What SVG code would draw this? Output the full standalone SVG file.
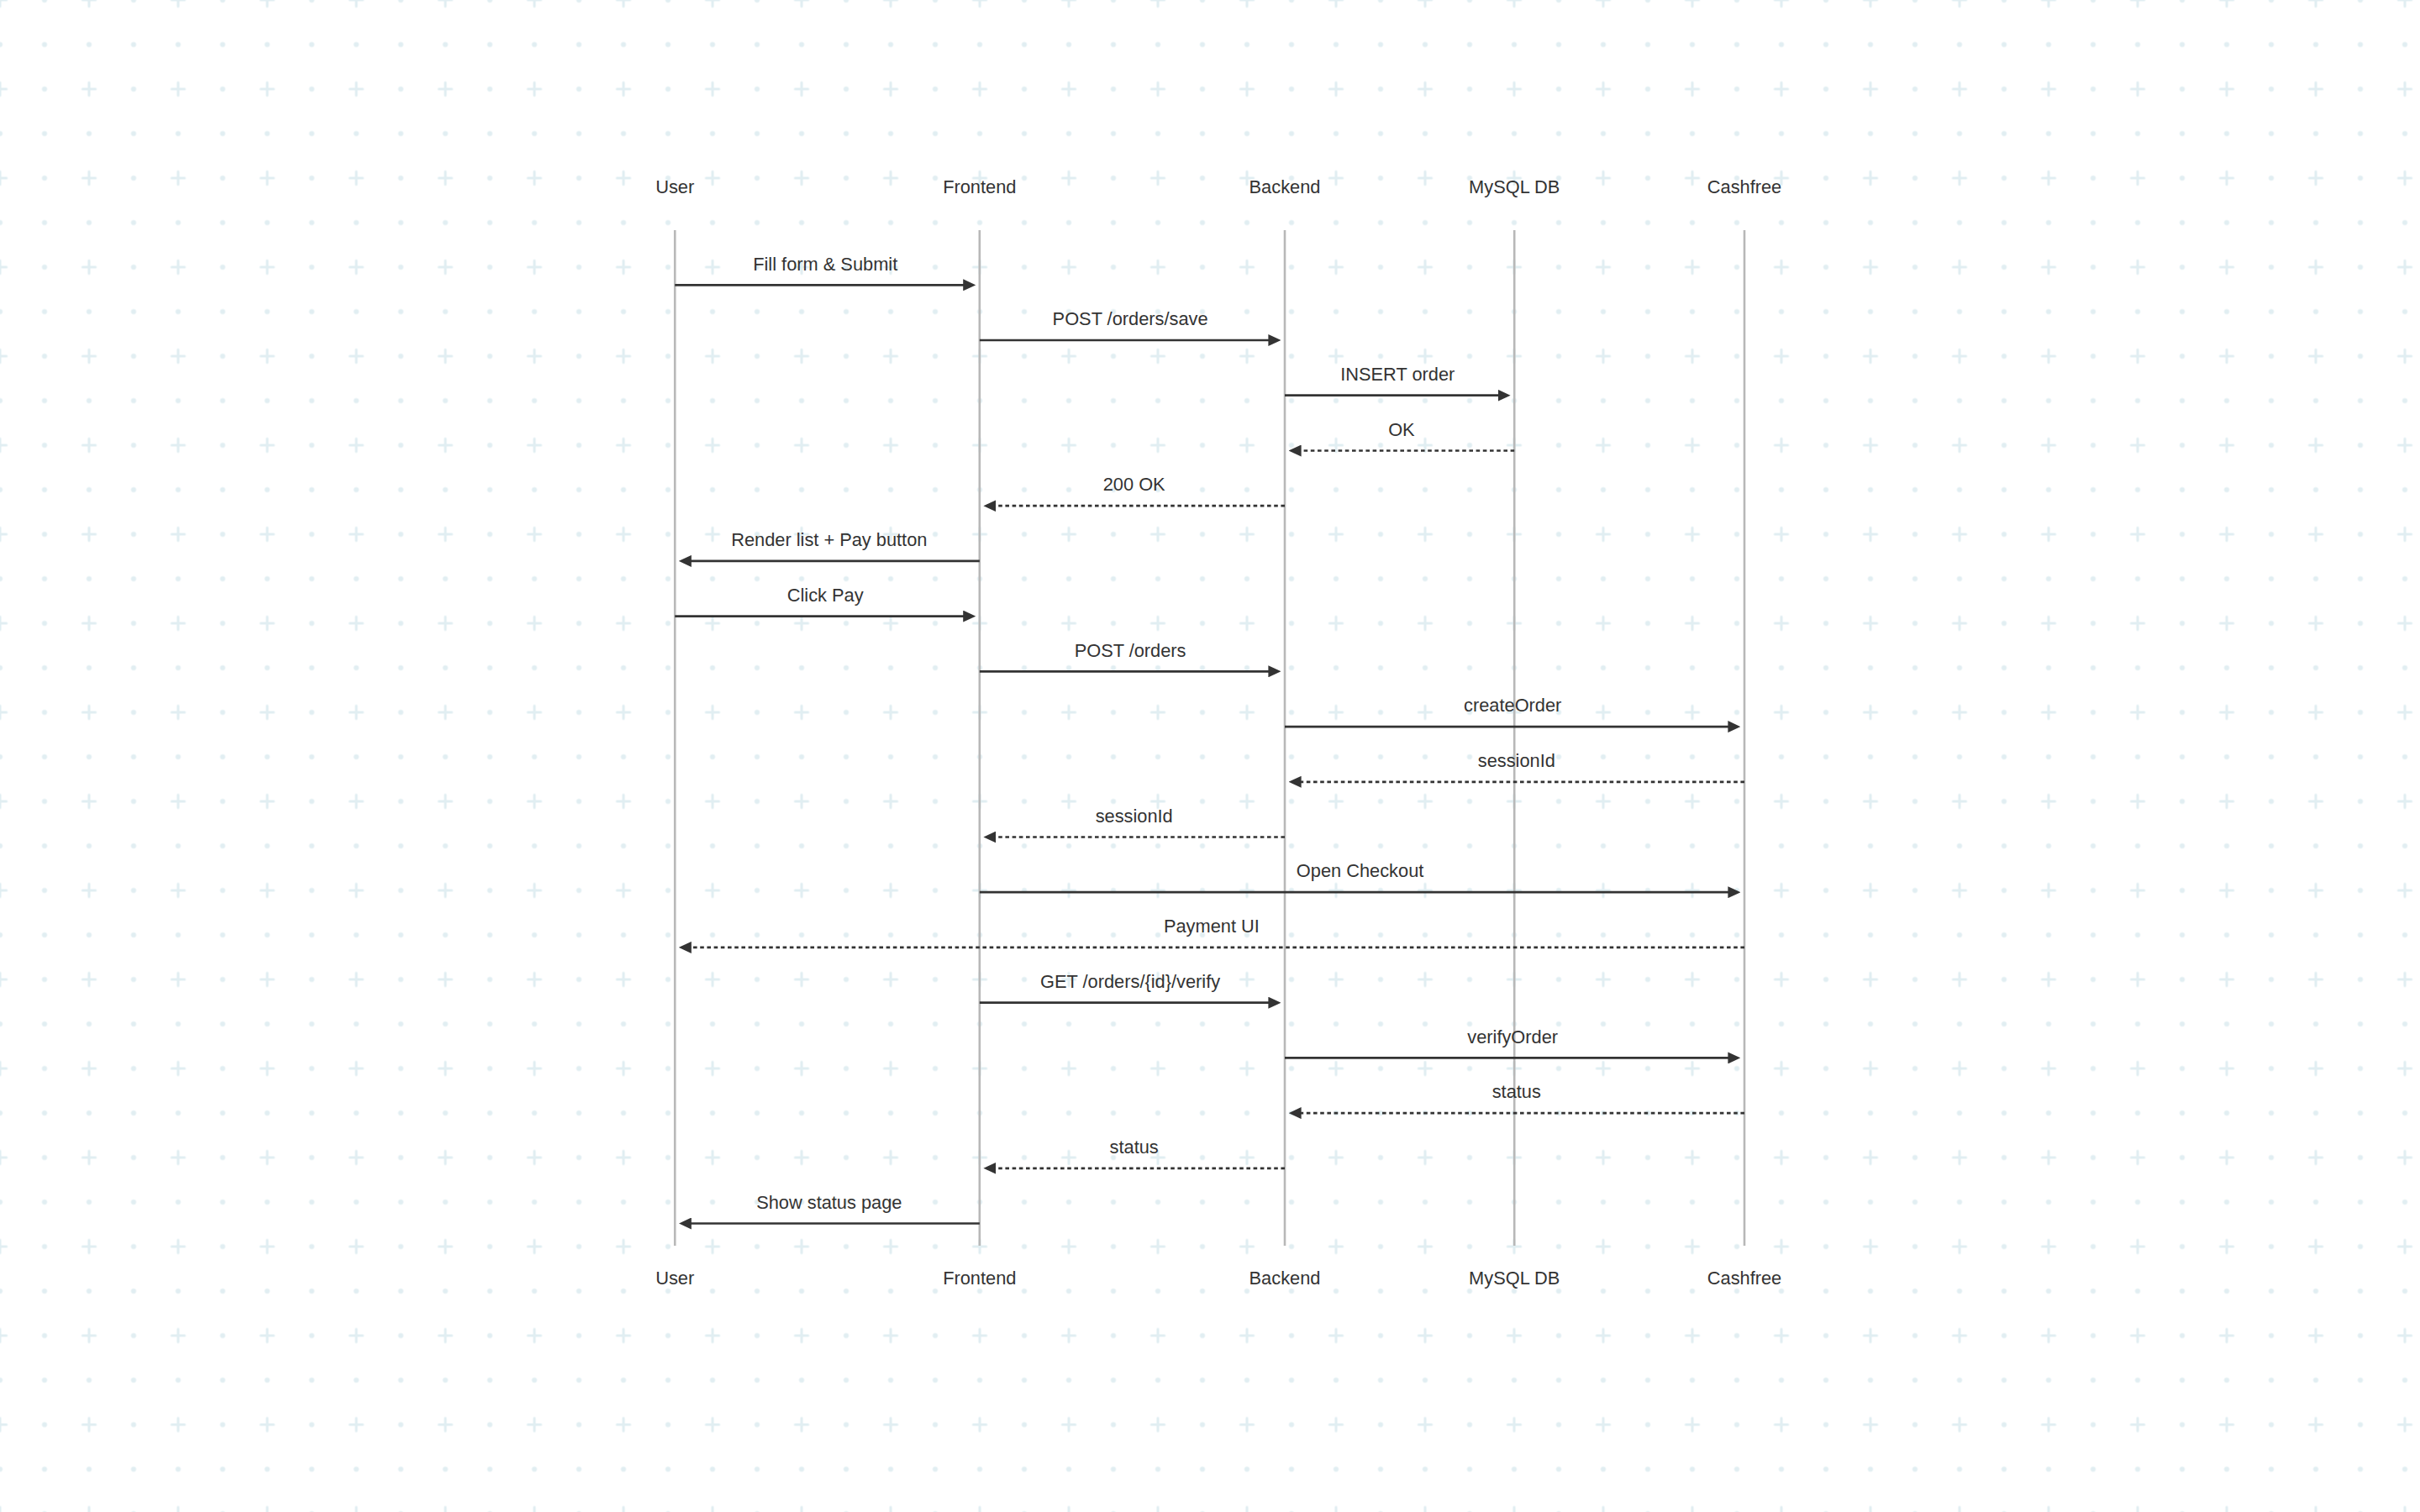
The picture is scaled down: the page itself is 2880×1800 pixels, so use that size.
<svg xmlns="http://www.w3.org/2000/svg" width="2880" height="1800" viewBox="0 0 2880 1800">
<style>
  .lbl { font-family: "Liberation Sans", Arial, Helvetica, sans-serif; font-size: 21.8px; fill: #333333; text-anchor: middle; }
  .life { stroke: #b8b8b8; stroke-width: 2.6; fill: none; }
  .msg { stroke: #333333; stroke-width: 2.7; fill: none; marker-end: url(#arrow); }
  .dash { stroke-dasharray: 4.6 3.6; }
  .grid { stroke: #e1eef2; stroke-width: 3.2; stroke-linecap: round; fill: none; }
  .dot { fill: #e1eef2; }
</style>
<defs>
  <pattern id="bg" patternUnits="userSpaceOnUse" x="-26.5" y="-26.5" width="106" height="106">
    <path class="grid" d="M18.9 26.5 H34.1 M26.5 18.9 V34.1"/>
    <circle class="dot" cx="79.5" cy="26.5" r="3.1"/>
    <circle class="dot" cx="26.5" cy="79.5" r="3.1"/>
    <circle class="dot" cx="79.5" cy="79.5" r="3.1"/>
  </pattern>
  <marker id="arrow" markerUnits="userSpaceOnUse" markerWidth="15" markerHeight="14" refX="11" refY="7" orient="auto">
    <path d="M0,0 L15,7 L0,14 z" fill="#333333"/>
  </marker>
</defs>
<rect x="0" y="0" width="2880" height="1800" fill="#ffffff"/>
<rect x="0" y="0" width="2880" height="1800" fill="url(#bg)"/>

<g id="actor-user">
  <text class="lbl" x="803.2" y="230">User</text>
  <line class="life" x1="803.2" y1="274" x2="803.2" y2="1483"/>
  <text class="lbl" x="803.2" y="1528.5">User</text>
</g>
<g id="actor-frontend">
  <text class="lbl" x="1165.8" y="230">Frontend</text>
  <line class="life" x1="1165.8" y1="274" x2="1165.8" y2="1483"/>
  <text class="lbl" x="1165.8" y="1528.5">Frontend</text>
</g>
<g id="actor-backend">
  <text class="lbl" x="1529" y="230">Backend</text>
  <line class="life" x1="1529" y1="274" x2="1529" y2="1483"/>
  <text class="lbl" x="1529" y="1528.5">Backend</text>
</g>
<g id="actor-mysql">
  <text class="lbl" x="1802.2" y="230">MySQL DB</text>
  <line class="life" x1="1802.2" y1="274" x2="1802.2" y2="1483"/>
  <text class="lbl" x="1802.2" y="1528.5">MySQL DB</text>
</g>
<g id="actor-cashfree">
  <text class="lbl" x="2076" y="230">Cashfree</text>
  <line class="life" x1="2076" y1="274" x2="2076" y2="1483"/>
  <text class="lbl" x="2076" y="1528.5">Cashfree</text>
</g>

<g id="connectors">
  <line class="msg" x1="803.2" y1="339.3" x2="1157.2" y2="339.3"/>
  <text class="lbl" x="982.2" y="321.5">Fill form &amp; Submit</text>

  <line class="msg" x1="1165.8" y1="405" x2="1520.4" y2="405"/>
  <text class="lbl" x="1345.1" y="387.2">POST /orders/save</text>

  <line class="msg" x1="1529" y1="470.7" x2="1793.6" y2="470.7"/>
  <text class="lbl" x="1663.3" y="452.9">INSERT order</text>

  <line class="msg dash" x1="1802.2" y1="536.5" x2="1537.6" y2="536.5"/>
  <text class="lbl" x="1667.9" y="518.7">OK</text>

  <line class="msg dash" x1="1529" y1="602.2" x2="1174.4" y2="602.2"/>
  <text class="lbl" x="1349.7" y="584.4">200 OK</text>

  <line class="msg" x1="1165.8" y1="667.9" x2="811.8" y2="667.9"/>
  <text class="lbl" x="986.8" y="650.1">Render list + Pay button</text>

  <line class="msg" x1="803.2" y1="733.6" x2="1157.2" y2="733.6"/>
  <text class="lbl" x="982.2" y="715.8">Click Pay</text>

  <line class="msg" x1="1165.8" y1="799.3" x2="1520.4" y2="799.3"/>
  <text class="lbl" x="1345.1" y="781.5">POST /orders</text>

  <line class="msg" x1="1529" y1="865.1" x2="2067.4" y2="865.1"/>
  <text class="lbl" x="1800.2" y="847.3">createOrder</text>

  <line class="msg dash" x1="2076" y1="930.8" x2="1537.6" y2="930.8"/>
  <text class="lbl" x="1804.8" y="913">sessionId</text>

  <line class="msg dash" x1="1529" y1="996.5" x2="1174.4" y2="996.5"/>
  <text class="lbl" x="1349.7" y="978.7">sessionId</text>

  <line class="msg" x1="1165.8" y1="1062.2" x2="2067.4" y2="1062.2"/>
  <text class="lbl" x="1618.6" y="1044.4">Open Checkout</text>

  <line class="msg dash" x1="2076" y1="1127.9" x2="811.8" y2="1127.9"/>
  <text class="lbl" x="1441.9" y="1110.1">Payment UI</text>

  <line class="msg" x1="1165.8" y1="1193.7" x2="1520.4" y2="1193.7"/>
  <text class="lbl" x="1345.1" y="1175.9">GET /orders/{id}/verify</text>

  <line class="msg" x1="1529" y1="1259.4" x2="2067.4" y2="1259.4"/>
  <text class="lbl" x="1800.2" y="1241.6">verifyOrder</text>

  <line class="msg dash" x1="2076" y1="1325.1" x2="1537.6" y2="1325.1"/>
  <text class="lbl" x="1804.8" y="1307.3">status</text>

  <line class="msg dash" x1="1529" y1="1390.8" x2="1174.4" y2="1390.8"/>
  <text class="lbl" x="1349.7" y="1373">status</text>

  <line class="msg" x1="1165.8" y1="1456.5" x2="811.8" y2="1456.5"/>
  <text class="lbl" x="986.8" y="1438.7">Show status page</text>
</g>
</svg>
